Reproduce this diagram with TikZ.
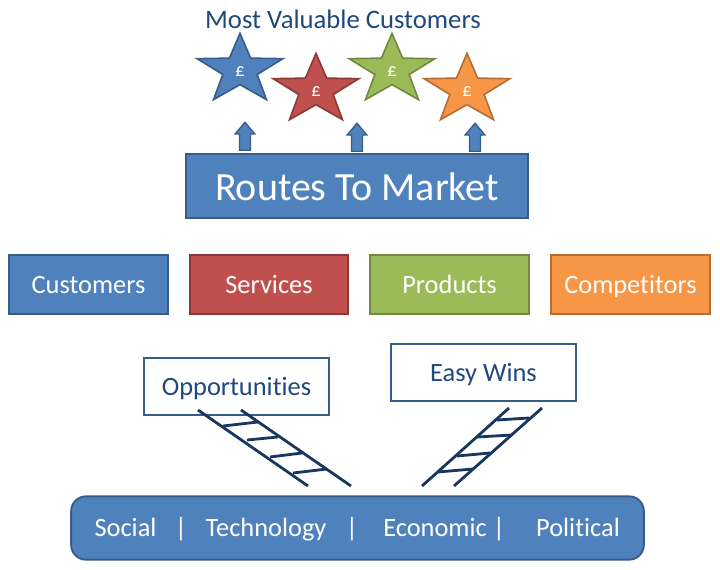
\documentclass[tikz,border=0pt]{standalone}
\usepackage{fontspec}
\setmainfont[Ligatures=NoCommon]{Carlito}
\usetikzlibrary{shapes.geometric,shapes.arrows}
\definecolor{bluefill}{HTML}{4F81BD}
\definecolor{blueline}{HTML}{385D8A}
\definecolor{redfill}{HTML}{C0504D}
\definecolor{redline}{HTML}{8C3836}
\definecolor{greenfill}{HTML}{9BBB59}
\definecolor{greenline}{HTML}{71893F}
\definecolor{orangefill}{HTML}{F79646}
\definecolor{orangeline}{HTML}{B66D31}
\definecolor{navytext}{HTML}{1F497D}
\definecolor{ladderline}{HTML}{17375E}
\tikzset{
  colbox/.style={draw=#1line,fill=#1fill,line width=1.4pt,minimum width=119pt,minimum height=44pt,text=white,font=\fontsize{19.8}{22}\selectfont,inner sep=0pt,text height=15pt,text depth=2pt},
  labelbox/.style={draw=blueline,fill=white,line width=1.2pt,minimum width=138.5pt,minimum height=42.5pt,text=navytext,font=\fontsize{19.8}{22}\selectfont,inner sep=0pt,text height=15pt,text depth=2pt},
  starshape/.style={star,star points=5,star point ratio=2.5,draw=#1line,fill=#1fill,line width=1.2pt,minimum size=55pt,inner sep=0pt,xscale=1.23},
  pound/.style={text=white,font=\fontsize{14}{15}\selectfont,inner sep=0pt},
  uparrow/.style={single arrow,draw=blueline,fill=bluefill,line width=1pt,rotate=90,minimum height=21pt,minimum width=14.5pt,single arrow head extend=3.3pt,inner sep=3.6pt,single arrow tip angle=80},
  pestword/.style={text=white,font=\fontsize{19.8}{22}\selectfont,inner sep=0pt,text height=15pt,text depth=2pt},
  ladder/.style={draw=ladderline,line width=2.1pt}
}
\begin{document}
\begin{tikzpicture}[x=0.75pt,y=-0.75pt]
  \useasboundingbox (0,0) rectangle (720,570);
  % top row
  \node[text=navytext,font=\fontsize{20}{22}\selectfont,inner sep=0pt] (title) at (343,19) {Most Valuable Customers};
  \foreach \name/\col/\x/\y in {one/blue/240/70,two/red/316/90,three/green/392/70,four/orange/467/90} {
    \node[starshape=\col] (star\name) at (\x,\y) {};
    \node[pound] (pound\name) at (\x,\y+2) {£};
  }
  \foreach \name/\x/\y in {a/245/139.5,b/357/140.5,c/475/140.5} {
    \node[uparrow] (arrow\name) at (\x,\y) {};
  }
  \node[colbox=blue,minimum width=256pt,minimum height=48pt,font=\fontsize{30}{33}\selectfont,text height=24pt,text depth=2.5pt] (routes) at (357,186) {Routes To Market};
  % middle row
  \node[colbox=blue] (customers) at (88.5,284.5) {Customers};
  \node[colbox=red] (services) at (269,284.5) {Services};
  \node[colbox=green] (products) at (449.5,284.5) {Products};
  \node[colbox=orange] (competitors) at (630.5,284.5) {Competitors};
  % ladders
  \node[labelbox] (opps) at (236.5,386.5) {Opportunities};
  \node[labelbox] (wins) at (483.5,372.5) {Easy Wins};
  \coordinate (la) at (198,410);
  \coordinate (lb) at (308,486);
  \coordinate (lc) at (241,410);
  \coordinate (ld) at (351,486);
  \draw[ladder] (la) -- (lb) (lc) -- (ld);
  \foreach \xa/\ya/\xb/\yb in {223/426/258/422,247/440/278/437,270/457/302/453,293/473/327/469} {
    \draw[ladder] (\xa,\ya) -- (\xb,\yb);
  }
  \coordinate (ra) at (509,408);
  \coordinate (rb) at (422,486);
  \coordinate (rc) at (542,408);
  \coordinate (rd) at (454,486);
  \draw[ladder] (ra) -- (rb) (rc) -- (rd);
  \foreach \xa/\ya/\xb/\yb in {497/420/529/418,477/437/512/435,457/456/490/453,438/472/473/469} {
    \draw[ladder] (\xa,\ya) -- (\xb,\yb);
  }
  % bottom bar
  \node[colbox=blue,rounded corners=11pt,minimum width=429.5pt,minimum height=47.5pt] (pest) at (357.5,528) {};
  \node[pestword] (social) at (125.5,528) {Social};
  \node[pestword] (sepa) at (181,528) {|};
  \node[pestword] (tech) at (266,528) {Technology};
  \node[pestword] (sepb) at (352,528) {|};
  \node[pestword] (econ) at (435,528) {Economic};
  \node[pestword] (sepc) at (499,528) {|};
  \node[pestword] (pol) at (578,528) {Political};
\end{tikzpicture}
\end{document}
